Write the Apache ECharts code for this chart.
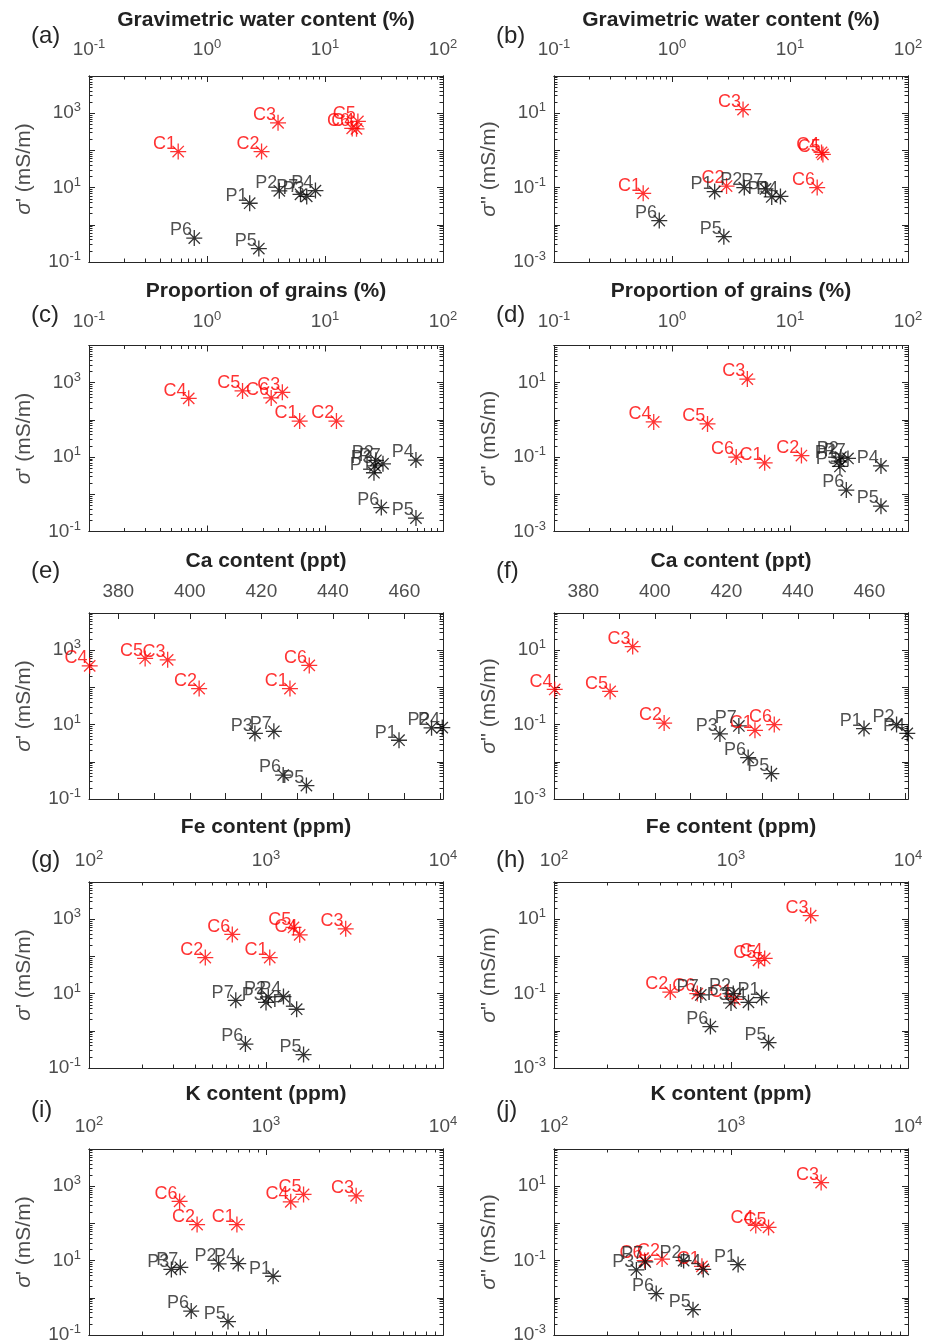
<!DOCTYPE html>
<html>
<head>
<meta charset="utf-8">
<script src="https://cdn.jsdelivr.net/npm/echarts@6/dist/echarts.min.js"></script>
<style>
  html, body { margin: 0; padding: 0; background: #fff; }
  #chart { width: 925px; height: 1344px; }
</style>
</head>
<body>
<div id="chart"></div>
<script>
// samples, red = C*, black = P*
const samples = ['C1', 'C2', 'C3', 'C4', 'C5', 'C6', 'P1', 'P2', 'P3', 'P4', 'P5', 'P6', 'P7']
const sigmaReal = [93, 93, 550, 380, 600, 390, 3.8, 8.2, 5.8, 8.3, 0.23, 0.44, 6.6]
const sigmaImag = [0.07, 0.11, 12.5, 0.88, 0.78, 0.1, 0.078, 0.1, 0.056, 0.058, 0.0048, 0.013, 0.092]
const waterContent = [0.57, 2.9, 4.0, 18.5, 19, 17, 2.3, 4.1, 7.0, 8.3, 2.75, 0.78, 6.2]
const grainProportion = [6.1, 12.5, 4.35, 0.7, 2.0, 3.5, 26, 27, 26.5, 59, 59, 30, 31]
const caContent = [428, 402.6, 393.8, 372, 387.5, 433.4, 458.5, 467.6, 418.2, 470.6, 432.6, 426.1, 423.5]
const feContent = [1050, 454, 2820, 1550, 1430, 645, 1490, 1030, 1000, 1255, 1630, 765, 675]
const kContent = [685, 408, 3230, 1380, 1630, 325, 1097, 540, 292, 697, 610, 378, 328]

// tick labels
const waterTickLabels = [0.1, 1, 10, 100]
const grainTickLabels = [0.1, 1, 10, 100]
const caTickLabels = [380, 400, 420, 440, 460]
const caTicks = [380, 390, 400, 410, 420, 430, 440, 450, 460, 470]
const feTickLabels = [100, 1000, 10000]
const kTickLabels = [100, 1000, 10000]
const sigmaRealTickLabels = [0.1, 10, 1000]
const sigmaImagTickLabels = [0.001, 0.1, 10]

const FONT = '"Liberation Sans", Arial, sans-serif'
const AX = '#262626'
const TXT = '#4d4d4d'
const RED = '#ff0000'
const STAR = 'path://M0,6.5L13,6.5M6.5,0L6.5,13M1.9,1.9L11.1,11.1M11.1,1.9L1.9,11.1'

const rows = [
  { title: 'Gravimetric water content (%)', x: waterContent, log: true, min: 0.1, max: 100, labels: waterTickLabels },
  { title: 'Proportion of grains (%)', x: grainProportion, log: true, min: 0.1, max: 100, labels: grainTickLabels },
  { title: 'Ca content (ppt)', x: caContent, log: false, min: 371.8, max: 470.8, labels: caTickLabels },
  { title: 'Fe content (ppm)', x: feContent, log: true, min: 100, max: 10000, labels: feTickLabels },
  { title: 'K content (ppm)', x: kContent, log: true, min: 100, max: 10000, labels: kTickLabels }
]
const cols = [
  { y: sigmaReal, name: "{i|σ}' (mS/m)", min: 0.1, max: 10000, labels: sigmaRealTickLabels },
  { y: sigmaImag, name: "{i|σ}'' (mS/m)", min: 0.001, max: 100, labels: sigmaImagTickLabels }
]

const rowTop = [76, 345.5, 613, 882, 1149]
const rowTitleY = [20, 291, 561, 827, 1094]
const rowLabelY = [50, 322, 591, 861, 1127]
const rowLetterY = [36, 315, 571, 860, 1110]
const colLeft = [89, 554]
const colLetterX = [31, 496]
const boxW = 354
const boxH = 186

const supRich = {
  b: { fontSize: 19, color: TXT, fontFamily: FONT, lineHeight: 24 },
  s: { fontSize: 13, color: TXT, fontFamily: FONT, lineHeight: 14, verticalAlign: 'top' }
}
const powLabel = v => '{b|10}{s|' + Math.round(v) + '}'

function logTicks (min, max) {
  const lo = Math.round(Math.log10(min))
  const hi = Math.round(Math.log10(max))
  const major = []
  const minor = []
  for (let d = lo; d <= hi; d++) {
    major.push(d)
    if (d < hi) for (let k = 2; k <= 9; k++) minor.push(d + Math.log10(k))
  }
  return { major, minor }
}

const grids = []
const xAxes = []
const yAxes = []
const series = []
const graphics = []
const letters = 'abcdefghij'

function baseAxis (gi, position, lo, hi, ticks, len) {
  return {
    gridIndex: gi,
    type: 'value',
    position: position,
    min: lo,
    max: hi,
    axisLine: { show: true, onZero: false, lineStyle: { color: AX, width: 1 } },
    axisTick: { show: ticks.length > 0, inside: true, length: len, customValues: ticks, lineStyle: { color: AX, width: 1 } },
    axisLabel: { show: false },
    splitLine: { show: false }
  }
}

rows.forEach((row, r) => {
  cols.forEach((col, c) => {
    const gi = grids.length
    grids.push({ left: colLeft[c], top: rowTop[r], width: boxW, height: boxH, outerBoundsMode: 'none' })

    // x axes (top with labels, bottom mirror, minor ticks)
    const fx = row.log ? Math.log10 : (v => v)
    const xlo = fx(row.min)
    const xhi = fx(row.max)
    let xMajor, xMinor
    if (row.log) {
      const t = logTicks(row.min, row.max)
      xMajor = t.major
      xMinor = t.minor
    } else {
      xMajor = caTicks
      xMinor = []
    }
    const xMain = baseAxis(gi, 'top', xlo, xhi, xMajor, 6)
    const labelMargin = rowTop[r] - rowLabelY[r] - (row.log ? 12 : 10)
    xMain.axisLabel = row.log
      ? { show: true, customValues: row.labels.map(Math.log10), formatter: powLabel, margin: labelMargin, rich: supRich, fontSize: 19, color: TXT, fontFamily: FONT }
      : { show: true, customValues: row.labels, formatter: v => String(v), margin: labelMargin, fontSize: 19, color: TXT, fontFamily: FONT }
    xMain.name = row.title
    xMain.nameLocation = 'middle'
    xMain.nameGap = rowTop[r] - rowTitleY[r] - 11
    xMain.nameTextStyle = { fontSize: 21, fontWeight: 'bold', color: '#222', fontFamily: FONT }
    const xMainIndex = xAxes.length
    xAxes.push(xMain)
    xAxes.push(baseAxis(gi, 'bottom', xlo, xhi, xMajor, 6))
    if (xMinor.length) {
      xAxes.push(baseAxis(gi, 'top', xlo, xhi, xMinor, 3.5))
      xAxes.push(baseAxis(gi, 'bottom', xlo, xhi, xMinor, 3.5))
    }

    // y axes (left with labels, right mirror, minor ticks)
    const ylo = Math.log10(col.min)
    const yhi = Math.log10(col.max)
    const yt = logTicks(col.min, col.max)
    const yMain = baseAxis(gi, 'left', ylo, yhi, yt.major, 6)
    yMain.axisLabel = { show: true, customValues: col.labels.map(Math.log10), formatter: powLabel, margin: 8, rich: supRich, fontSize: 19, color: TXT, fontFamily: FONT }
    yMain.name = col.name
    yMain.nameLocation = 'middle'
    yMain.nameGap = 54
    yMain.nameTextStyle = {
      fontSize: 21, color: TXT, fontFamily: FONT,
      rich: { i: { fontSize: 21, fontStyle: 'italic', color: TXT, fontFamily: FONT } }
    }
    const yMainIndex = yAxes.length
    yAxes.push(yMain)
    yAxes.push(baseAxis(gi, 'right', ylo, yhi, yt.major, 6))
    yAxes.push(baseAxis(gi, 'left', ylo, yhi, yt.minor, 3.5))
    yAxes.push(baseAxis(gi, 'right', ylo, yhi, yt.minor, 3.5))

    // scatter groups
    const groups = [
      { from: 0, to: 6, mark: RED, text: RED },
      { from: 6, to: 13, mark: '#000', text: AX }
    ]
    groups.forEach(g => {
      const data = []
      for (let i = g.from; i < g.to; i++) {
        data.push({ name: samples[i], value: [fx(row.x[i]), Math.log10(col.y[i])] })
      }
      series.push({
        type: 'scatter',
        xAxisIndex: xMainIndex,
        yAxisIndex: yMainIndex,
        clip: false,
        symbol: STAR,
        symbolSize: 16,
        itemStyle: { color: 'rgba(0,0,0,0)', borderColor: g.mark, borderWidth: 1.3 },
        label: {
          show: true,
          formatter: '{b}',
          position: [6.5, 10],
          align: 'right',
          verticalAlign: 'bottom',
          color: g.text,
          fontSize: 18,
          fontFamily: FONT
        },
        emphasis: { disabled: true },
        data: data
      })
    })

    graphics.push({
      type: 'text',
      x: colLetterX[c],
      y: rowLetterY[r],
      style: { text: '(' + letters[gi] + ')', font: '24px ' + FONT, fill: AX, verticalAlign: 'middle' }
    })
  })
})

const chart = echarts.init(document.getElementById('chart'))
chart.setOption({
  animation: false,
  backgroundColor: '#fff',
  grid: grids,
  xAxis: xAxes,
  yAxis: yAxes,
  series: series,
  graphic: graphics
})
</script>
</body>
</html>
